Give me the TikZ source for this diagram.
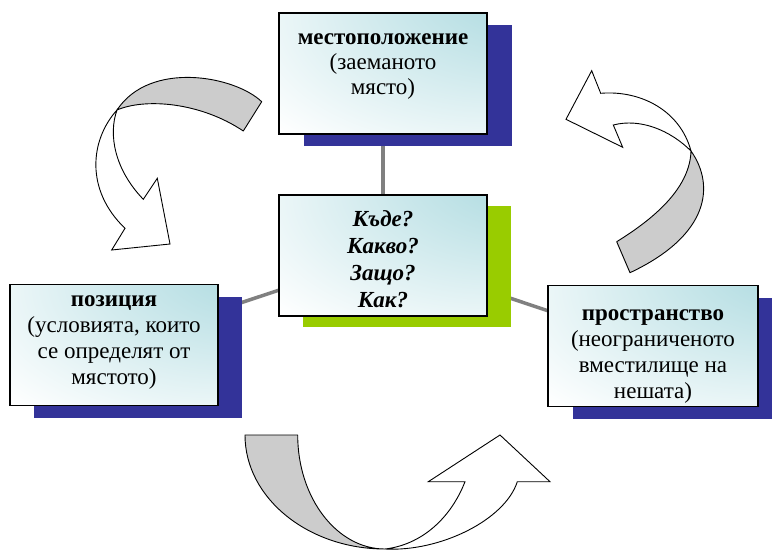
\documentclass[tikz,border=0pt]{standalone}
\usepackage{fontspec}
\setmainfont{Liberation Serif}
\definecolor{navy}{HTML}{333399}
\definecolor{lime}{HTML}{99CC00}
\definecolor{boxteal}{HTML}{A6D7DD}
\definecolor{bandgray}{HTML}{CCCCCC}
\definecolor{conngray}{HTML}{808080}
\pgfdeclareradialshading{boxshade}{\pgfpoint{45bp}{45bp}}{color(0bp)=(boxteal); color(15bp)=(boxteal!85!white); color(60bp)=(white); color(100bp)=(white)}
\pgfdeclarelayer{bg}
\pgfsetlayers{bg,main}
\begin{document}
\begin{tikzpicture}[x=1pt,y=-1pt,
  box/.style={draw=black, line width=1.4pt, shading=boxshade, shade,
    minimum width=208pt, minimum height=121pt, inner sep=0pt},
  shadowbox/.style={fill=#1, draw=none, minimum width=208pt, minimum height=121pt, inner sep=0pt},
  txt/.style={align=center, font=\fontsize{23}{26}\selectfont, inner sep=0pt},
  conn/.style={draw=conngray, line width=3.5pt},
  band/.style={fill=bandgray, draw=black, line width=0.9pt, line join=round},
  arrowbody/.style={fill=white, draw=black, line width=0.9pt, line join=miter}]
\useasboundingbox (0,0) rectangle (772,552);
\clip (0,0) rectangle (772,552);
% shadows
\node[shadowbox=navy] (tsh) at (407.5,85.5) {};
\node[shadowbox=lime] (csh) at (407,266.5) {};
\node[shadowbox=navy] (lsh) at (137.5,357.5) {};
\node[shadowbox=navy, minimum width=210pt] (rsh) at (678,358) {};
% boxes
\node[box] (tb) at (383,73.5) {};
\node[box] (cb) at (383,255.5) {};
\node[box] (lb) at (114,345) {};
\node[box, minimum width=210pt] (rb) at (653,346) {};
% connectors
\begin{pgfonlayer}{bg}
\draw[conn] (cb.center) -- (tb.center);
\draw[conn] (cb.center) -- (lb.center);
\draw[conn] (cb.center) -- (rb.center);
\end{pgfonlayer}
% texts
\node[txt, font=\fontsize{23}{25}\selectfont] (tt) at (383,67) {\textbf{местоположение}\\(заеманото\\място)};
\node[txt, font=\fontsize{23}{27}\selectfont\bfseries\itshape] (ct) at (383,259) {Къде?\\Какво?\\Защо?\\Как?};
\node[txt] (lt) at (114,343) {\textbf{позиция}\\(условията, които\\се определят от\\мястото)};
\begin{scope}
\clip (rb.north west) rectangle (rb.south east);
\node[txt] (rt) at (653,357) {\textbf{пространство}\\(неограниченото\\вместилище на\\нешата)};
\end{scope}
% top-left curved arrow
\draw[band] (261.7,101.7) .. controls (235,76) and (150,60) .. (117,110)
  .. controls (145,98) and (200,102) .. (243.3,131) -- cycle;
\draw[arrowbody] (117,110) .. controls (90,140) and (85,190) .. (125,228.3)
  -- (111.7,250) -- (170,244) -- (157.3,178.3) -- (143.3,199.3)
  .. controls (115,170) and (108,135) .. (117,110) -- cycle;
% top-right curved arrow
\draw[arrowbody] (566,119.3) -- (591.7,70.7) -- (600.7,93.3)
  .. controls (640,90) and (680,110) .. (691,151)
  .. controls (670,130) and (640,118) .. (613.3,125)
  -- (622.7,147.3) -- cycle;
\draw[band] (691,151) .. controls (715,185) and (710,235) .. (630,272.7)
  -- (616.7,241.7) .. controls (660,215) and (690,185) .. (691,151) -- cycle;
% bottom curved arrow
\draw[band] (245,435) -- (297.7,435) .. controls (297.7,498) and (337,549) .. (385,549)
  .. controls (308,549) and (245,498) .. (245,435) -- cycle;
\draw[arrowbody] (385,549) .. controls (440,552) and (505,520) .. (517.3,481.7)
  -- (550,481.7) -- (500,435) -- (428.3,481.7) -- (465,481.7)
  .. controls (450,520) and (420,545) .. (385,549) -- cycle;
\end{tikzpicture}
\end{document}
